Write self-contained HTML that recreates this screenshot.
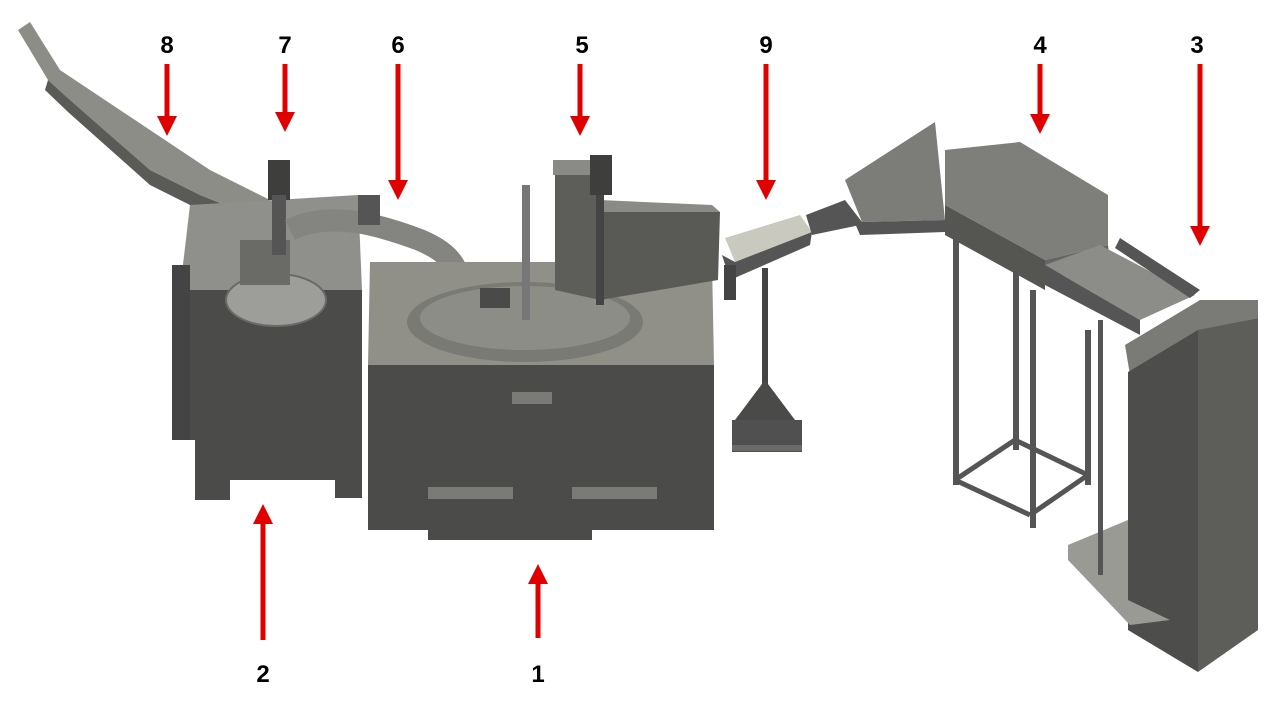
<!DOCTYPE html>
<html><head><meta charset="utf-8"><style>
html,body{margin:0;padding:0;background:#fff;}
svg{display:block}
text{font-family:"Liberation Sans",sans-serif;font-weight:bold;font-size:24px;fill:#000;text-anchor:middle}
</style></head><body>
<svg width="1280" height="711" viewBox="0 0 1280 711">
<defs>
<marker id="ah" markerWidth="4" markerHeight="4" refX="2" refY="2" orient="auto" markerUnits="strokeWidth">
<path d="M0,0 L4,2 L0,4 z" fill="#e00000"/></marker>
</defs>
<g stroke="none">
<!-- feed chute 8 -->
<polygon points="18,30 30,22 60,70 210,170 270,200 262,220 200,195 150,170 70,100 48,80" fill="#8d8d88"/>
<polygon points="48,80 70,100 150,170 200,195 262,220 262,232 200,210 150,185 68,112 45,90" fill="#5a5a57"/>
<!-- block 2 -->
<polygon points="190,205 358,195 362,290 180,290" fill="#8f8f8b"/>
<polygon points="180,290 362,290 362,498 335,498 335,480 230,480 230,500 195,500 195,440 178,440" fill="#4b4b49"/>
<polygon points="172,265 190,265 190,440 172,440" fill="#444"/>
<ellipse cx="276" cy="300" rx="50" ry="26" fill="#9d9d99"/>
<ellipse cx="276" cy="300" rx="50" ry="26" fill="none" stroke="#6a6a66" stroke-width="2"/>
<rect x="240" y="240" width="50" height="45" fill="#6a6a67"/>
<rect x="268" y="160" width="22" height="40" fill="#3e3e3c"/>
<rect x="272" y="195" width="14" height="60" fill="#555"/>
<!-- pipe 6 -->
<path d="M290,230 C330,210 380,225 420,240 C455,255 460,270 462,300" stroke="#848480" stroke-width="22" fill="none"/>
<rect x="358" y="195" width="22" height="30" fill="#555"/>
<!-- block 1 -->
<polygon points="370,262 712,262 714,365 368,365" fill="#909089"/>
<polygon points="368,365 714,365 714,530 592,530 592,540 428,540 428,530 368,530" fill="#4b4b49"/>
<rect x="428" y="487" width="85" height="12" fill="#7a7a76"/>
<rect x="572" y="487" width="85" height="12" fill="#7a7a76"/>
<rect x="512" y="392" width="40" height="12" fill="#7a7a76"/>
<ellipse cx="525" cy="322" rx="118" ry="40" fill="#7a7a75"/>
<ellipse cx="525" cy="318" rx="105" ry="32" fill="#8d8d88"/>
<rect x="522" y="185" width="8" height="135" fill="#777"/>
<rect x="480" y="288" width="30" height="20" fill="#4a4a48"/>
<!-- box 5 -->
<polygon points="555,160 600,160 600,300 555,290" fill="#5d5d5a"/>
<polygon points="553,160 600,160 600,175 553,175" fill="#8a8a86"/>
<polygon points="600,210 720,212 718,280 600,300" fill="#595956"/>
<polygon points="600,200 712,205 720,212 600,212" fill="#8a8a86"/>
<rect x="590" y="155" width="22" height="40" fill="#3e3e3c"/>
<rect x="596" y="195" width="8" height="110" fill="#444"/>
<!-- conveyor 9 -->
<polygon points="725,238 800,215 812,232 735,262" fill="#c9c9bf"/>
<polygon points="722,255 735,262 812,232 810,245 730,280" fill="#555"/>
<rect x="724" y="265" width="12" height="35" fill="#444"/>
<rect x="762" y="268" width="6" height="120" fill="#444"/>
<polygon points="765,380 795,420 775,430 755,430 735,420" fill="#4a4a48"/>
<rect x="732" y="420" width="70" height="32" fill="#505050"/>
<rect x="732" y="445" width="70" height="6" fill="#6a6a66"/>
<!-- incline conveyor -->
<polygon points="806,215 845,200 860,225 812,235" fill="#555"/>
<polygon points="845,180 935,122 945,220 862,222" fill="#7c7c78"/>
<polygon points="845,200 862,222 945,220 945,232 860,235" fill="#555"/>
<!-- box 4 -->
<polygon points="945,150 1020,142 1108,195 1108,245 1045,260 945,205" fill="#7e7e7a"/>
<polygon points="945,205 1045,260 1045,290 945,235" fill="#555552"/>
<polygon points="1045,260 1108,245 1110,262 1045,280" fill="#666"/>
<!-- frame 4 -->
<g fill="#555">
<rect x="953" y="235" width="6" height="250"/>
<rect x="1013" y="270" width="6" height="180"/>
<rect x="1030" y="290" width="6" height="238"/>
<rect x="1085" y="330" width="6" height="155"/>
</g>
<g stroke="#555" stroke-width="5" fill="none">
<line x1="955" y1="480" x2="1030" y2="515"/>
<line x1="1015" y1="440" x2="1088" y2="475"/>
<line x1="955" y1="480" x2="1015" y2="440"/>
<line x1="1030" y1="515" x2="1088" y2="475"/>
</g>
<!-- long conveyor to 3 -->
<polygon points="1045,265 1100,245 1195,295 1140,320" fill="#8c8c88"/>
<polygon points="1045,265 1140,320 1140,335 1045,285" fill="#555"/>
<polygon points="1120,238 1200,290 1190,298 1115,248" fill="#555"/>
<!-- tower 3 -->
<polygon points="1125,345 1200,300 1258,300 1258,318 1200,330 1130,375" fill="#7a7a76"/>
<polygon points="1128,372 1198,330 1198,672 1128,630" fill="#4d4d4b"/>
<polygon points="1198,330 1258,318 1258,630 1198,672" fill="#5d5d5a"/>
<polygon points="1068,545 1128,520 1128,600 1170,620 1130,625 1068,560" fill="#9a9a95"/>
<rect x="1098" y="320" width="5" height="255" fill="#555"/>
</g>
<!-- arrows -->
<g stroke="#e00000" stroke-width="5" fill="none" marker-end="url(#ah)">
<line x1="167" y1="64" x2="167" y2="126"/>
<line x1="285" y1="64" x2="285" y2="122"/>
<line x1="398" y1="64" x2="398" y2="190"/>
<line x1="580" y1="64" x2="580" y2="126"/>
<line x1="766" y1="64" x2="766" y2="190"/>
<line x1="1040" y1="64" x2="1040" y2="124"/>
<line x1="1200" y1="64" x2="1200" y2="236"/>
<line x1="263" y1="640" x2="263" y2="514"/>
<line x1="538" y1="638" x2="538" y2="574"/>
</g>
<text x="167" y="53">8</text>
<text x="285" y="53">7</text>
<text x="398" y="53">6</text>
<text x="582" y="53">5</text>
<text x="766" y="53">9</text>
<text x="1040" y="53">4</text>
<text x="1197" y="53">3</text>
<text x="263" y="682">2</text>
<text x="538" y="682">1</text>
</svg>
</body></html>
